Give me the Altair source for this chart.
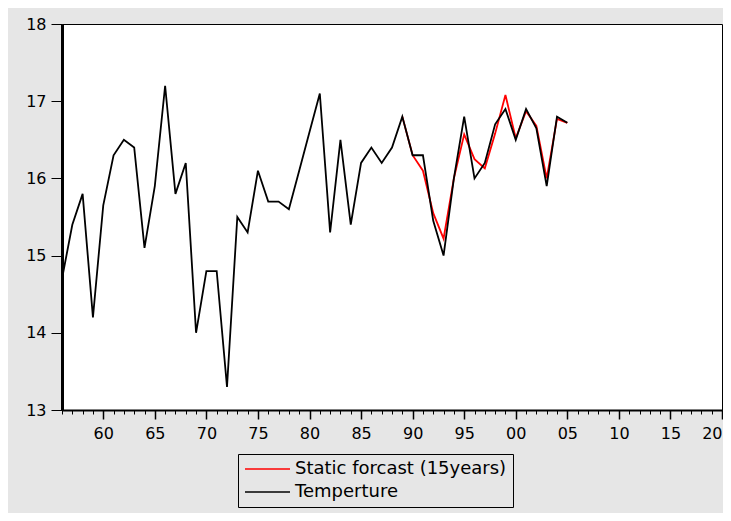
import altair as alt
import pandas as pd

# ---- data ----
years = list(range(1956, 2006))
temperature = [14.7, 15.4, 15.8, 14.2, 15.65, 16.3, 16.5, 16.4, 15.1, 15.9,
               17.2, 15.8, 16.2, 14.0, 14.8, 14.8, 13.3, 15.5, 15.3, 16.1,
               15.7, 15.7, 15.6, 16.1, 16.6, 17.1, 15.3, 16.5, 15.4, 16.2,
               16.4, 16.2, 16.4, 16.8, 16.3, 16.3, 15.45, 15.0, 16.0, 16.8,
               16.0, 16.2, 16.7, 16.9, 16.5, 16.9, 16.65, 15.9, 16.8, 16.72]
forecast_years = list(range(1989, 2006))
forecast = [16.8, 16.3, 16.1, 15.55, 15.22, 16.0, 16.57, 16.25, 16.13,
            16.58, 17.08, 16.52, 16.87, 16.68, 16.0, 16.77, 16.72]
series_names = ["Static forcast (15years)", "Temperture"]
series_colors = ["#ff0000", "#000000"]
major_ticks = list(range(1960, 2021, 5))
minor_ticks = list(range(1956, 2021))
y_ticks = [13, 14, 15, 16, 17, 18]

df_t = pd.DataFrame({"year": years, "value": temperature, "series": series_names[1]})
df_f = pd.DataFrame({"year": forecast_years, "value": forecast, "series": series_names[0]})

FONT = "DejaVu Sans"

color = alt.Color(
    "series:N",
    scale=alt.Scale(domain=series_names, range=series_colors),
    legend=alt.Legend(
        title=None, orient="none", legendX=176, legendY=430, direction="vertical",
        symbolType="stroke", symbolSize=2025, symbolStrokeWidth=1.5, clipHeight=18,
        labelFont=FONT, labelFontSize=18, labelColor="black", labelOffset=4,
        labelLimit=400, padding=6, strokeColor="black", rowPadding=5,
    ),
)

xscale = alt.Scale(domain=[1956, 2020], nice=False, zero=False)
yscale = alt.Scale(domain=[13, 18], nice=False, zero=False)

label_expr = "(datum.value % 100) < 10 ? '0' + (datum.value % 100) : '' + (datum.value % 100)"
major_x = alt.Axis(
    orient="bottom", values=major_ticks, labelExpr=label_expr, title=None, grid=False,
    tickSize=9, tickWidth=1.5, tickColor="black", domain=True, domainColor="black",
    domainWidth=2, labelFont=FONT, labelFontSize=16, labelColor="black", labelPadding=6,
    labelFlush=True, labelOverlap=False,
)
minor_x = alt.Axis(
    orient="bottom", values=minor_ticks, labels=False, title=None, grid=False,
    tickSize=4, tickWidth=1, tickColor="black", domain=False,
)
y_axis = alt.Axis(
    values=y_ticks, title=None, grid=False, tickSize=11, tickWidth=1, tickColor="black",
    domainWidth=3, domainColor="black", labelFont=FONT, labelFontSize=16,
    labelColor="black", labelPadding=5,
)

red = alt.Chart(df_f).mark_line(strokeWidth=1.8).encode(
    x=alt.X("year:Q", scale=xscale, axis=minor_x),
    y=alt.Y("value:Q", scale=yscale, axis=y_axis),
    color=color,
)
black = alt.Chart(df_t).mark_line(strokeWidth=1.8).encode(
    x=alt.X("year:Q", scale=xscale, axis=major_x),
    y=alt.Y("value:Q", scale=yscale, axis=y_axis),
    color=color,
)

chart = (
    alt.layer(red, black)
    .resolve_axis(x="independent")
    .properties(
        width=660, height=386, autosize="none",
        padding={"left": 54, "top": 16, "right": 1, "bottom": 103},
        background="#e6e6e6",
    )
    .configure_view(fill="white", stroke="black", strokeWidth=1)
)

chart.save("out.html", embed_options={"renderer": "svg", "actions": False})
